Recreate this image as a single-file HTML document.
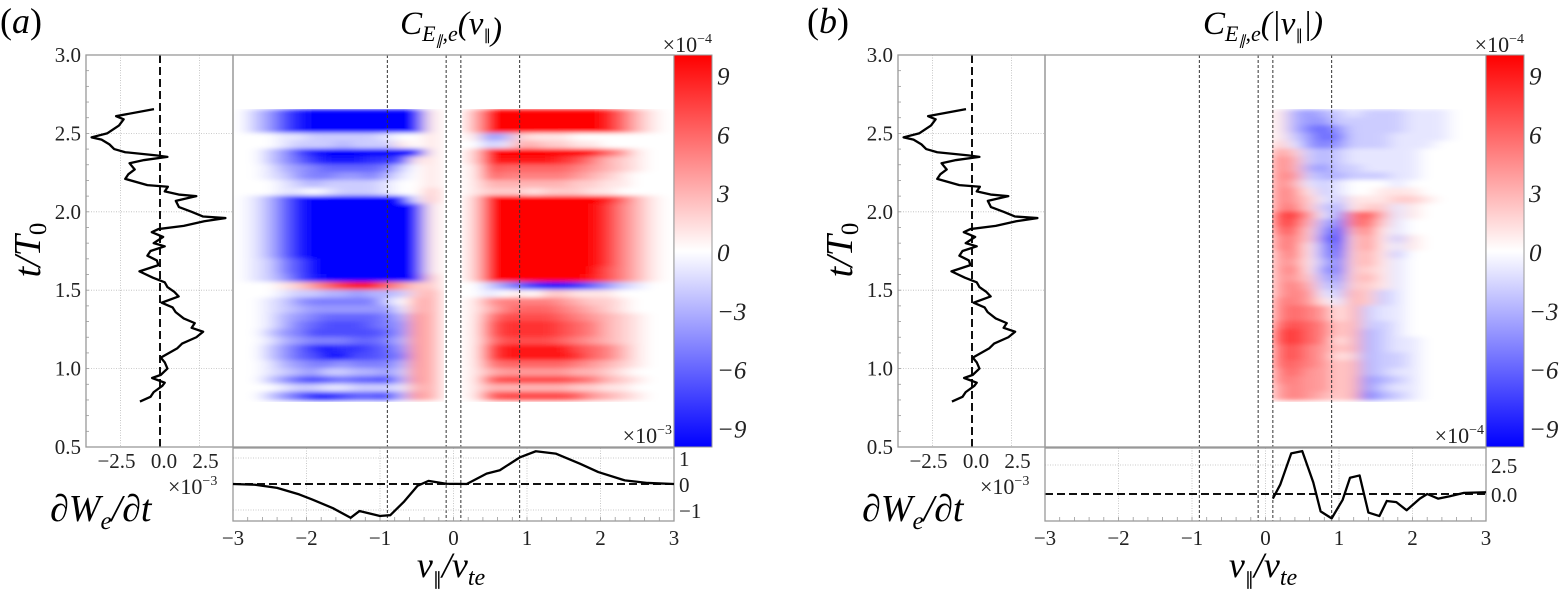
<!DOCTYPE html>
<html><head><meta charset="utf-8">
<style>
html,body{margin:0;padding:0;background:#fff;}
svg{display:block;font-family:"Liberation Serif",serif;}
.tk{font-size:21px;fill:#222;}
</style></head>
<body>
<svg id="fig" width="1559" height="589" viewBox="0 0 1559 589" xmlns="http://www.w3.org/2000/svg">
<defs>
<filter id="blur" x="-5%" y="-5%" width="110%" height="110%"><feGaussianBlur stdDeviation="8 2"/></filter>
<linearGradient id="cbar" x1="0" y1="1" x2="0" y2="0">
<stop offset="0" stop-color="#0000ff"/><stop offset="0.5" stop-color="#ffffff"/><stop offset="1" stop-color="#ff0000"/>
</linearGradient>
<clipPath id="clipA"><rect x="233" y="109" width="211" height="293"/><rect x="462" y="109" width="212" height="293"/></clipPath>
<clipPath id="clipB"><rect x="1272" y="109" width="214" height="293"/></clipPath>
</defs>
</svg>
<script>
// ---- data ----
const tSeries = [2.655,2.61,2.59,2.55,2.5,2.475,2.46,2.43,2.40,2.38,2.36,2.35,2.33,2.31,2.27,2.24,2.21,2.17,2.16,2.13,2.11,2.10,2.07,2.03,2.0,1.97,1.96,1.94,1.91,1.89,1.87,1.84,1.80,1.78,1.75,1.72,1.69,1.66,1.62,1.58,1.55,1.52,1.49,1.46,1.42,1.39,1.36,1.32,1.29,1.26,1.235,1.2,1.16,1.13,1.11,1.07,1.04,1.0,0.96,0.94,0.91,0.89,0.85,0.82,0.79];
const dWdtT = [-0.38,-2.78,-2.3,-2.6,-3.35,-4.33,-3.7,-3.2,-2.9,-2.2,-0.24,0.47,-1.0,-1.93,-1.6,-2.0,-2.2,-0.8,0.5,0.3,1.18,2.3,1.0,1.2,2.0,2.73,4.14,2.8,1.5,-0.1,-0.52,0.2,-0.4,0.3,-0.6,-0.8,-0.2,-0.1,-1.3,-0.45,0.3,0.47,0.9,1.18,0.1,0.8,0.99,1.5,2.2,2.0,2.73,2.3,1.4,1.1,0.75,0.05,0.3,0.47,0.05,-0.5,0.3,0.15,-0.4,-0.6,-1.27];
const vA = [-3,-2.7,-2.4,-2.1,-1.92,-1.64,-1.4,-1.28,-1.0,-0.86,-0.67,-0.49,-0.34,-0.1,0.18,0.45,0.63,0.9,1.12,1.39,1.72,1.97,2.33,2.64,3];
const wA = [0,-0.03,-0.15,-0.4,-0.6,-0.93,-1.3,-1.04,-1.23,-1.2,-0.67,-0.07,0.12,0.01,0,0.4,0.53,1.02,1.26,1.17,0.78,0.46,0.14,0.04,0];
const vB = [0.1,0.2,0.35,0.5,0.65,0.75,0.9,1.05,1.15,1.28,1.4,1.55,1.65,1.78,1.92,2.1,2.2,2.35,2.5,2.7,3.0];
const wB = [-0.4,0.8,3.5,3.7,1.0,-1.5,-2.1,-0.5,1.4,1.6,-1.6,-1.9,-0.6,-0.7,-1.4,-0.4,0.0,-0.4,-0.2,0.1,0.15];
// heatmap rows: t centres 2.625 down to 0.825 (step 0.05); chars: 0-9 positive, X=12, a-i negative, x=-12, .=none
const heatA = [
"0bdgixxxxxxxx1..3XXXXXXXX96310",
"0bdgixxxxxxxx1..3XXXXXXXX96310",
"0bdgixxxxxxxx1..3XXXXXXXX96310",
"000aabbbbba001..1dc21110000000",
"000abbbcbbb101..0ba33221100000",
"00bdgixxxxxxx1..2XXXXXXX964100",
"00bdfhiiihhg11..29999987532100",
"00acdeffffeb01..17666665432100",
"00abdeeddeca01..16555554321000",
"000abcbbbba001..13333332211000",
"000aa0abbba002..12221222110000",
"0acfixxxxxxxa2..2XXXXXXXX96310",
"0acfixxxxxxxx1..2XXXXXXXX85310",
"0acfixxxxxxxx1..2XXXXXXXX85310",
"0acfixxxxxxxx1..2XXXXXXXX85310",
"0acfixxxxxxxx1..2XXXXXXXX85310",
"0acfixxxxxxxx1..2XXXXXXXX85310",
"0acfixxxxxxxx1..2XXXXXXXX85310",
"0acfixxxxxxxx1..2XXXXXXXX85310",
"0abegxxxxxxxx1..2XXXXXXXX85310",
"0abegxxxxxxxx1..2XXXXXXXX75310",
"0abdgixxxxxxx2..2XXXXXXX975310",
"00012468996422..0bdfhiihfdba00",
"000abbccdccb23..0a010221110000",
"00abdeeeeeb033..14555543221000",
"00abcdddddda33..13566654321000",
"00acdeffffec43..15777765432100",
"00acefgggfed43..16888876532100",
"00bdegggggfd43..16888876532100",
"00acdeeeffec43..15777765432100",
"00bdfhihhgfd43..17999997653100",
"00bdfgiiggfe43..17999998653100",
"00acdeedeeec43..15666665432100",
"00abcdbbccdb43..13444443321000",
"00bdfgfeffgc43..16777776532100",
"000abbaabbba33..13333332211000",
"00bdfhhgffgc43..16777776432100"];
const heatB = [
"1cdcbabbbaaa000","1cddbbbbbaaa000","1cefdbbbbaaa000","1bdfebbbaaaa000","2adedbbbaaa0000",
"42bcbaaaaa00000","53bcbaaaaa00000","53cdbbaaaa00000","54bccbbbaa00000","53aba000a000000",
"541ba0011100000","542ab1112210000","552bc122a100000","784ad573a100000","773ce562a000000",
"662dg351a000000","552eh241b100000","551dg241a100000","451df231b000000","441ce231a000000",
"451de221a000000","442cd231a000000","453bc221a000000","454ab32ba000000","5541a32ba000000",
"565413baa000000","565413baa000000","676523bba000000","786523cba000000","786513cbaa00000",
"675423cbaa00000","675412cbba00000","665423cbba00000","564423cbaa00000","554423dcba00000",
"454423dbaa00000","454323ecba00000"];
const tTicks = [3.0,2.5,2.0,1.5,1.0,0.5];
const vTicks = [-3,-2,-1,0,1,2,3];
const lTicks = [-2.5,0.0,2.5];
const lTickLbl = ['\u22122.5','0.0','2.5'];
const cbTicks = [9,6,3,0,-3,-6,-9];
const refV = [-0.9,-0.1,0.1,0.9];

// ---- drawing ----
const NS = "http://www.w3.org/2000/svg";
const svg = document.getElementById('fig');
function mk(tag, attrs, parent, text){
  const e = document.createElementNS(NS, tag);
  for (const k in attrs) e.setAttribute(k, attrs[k]);
  if (text !== undefined) e.textContent = text;
  (parent || svg).appendChild(e);
  return e;
}
function cv(c){
  if (c === '.') return null;
  if (c === 'X') return 12;
  if (c === 'x') return -12;
  if (c >= '0' && c <= '9') return +c;
  return -(c.charCodeAt(0) - 96);
}
function col(v){
  let f = Math.max(-1, Math.min(1, v / 10));
  if (f >= 0) { const g = Math.round(255 * (1 - f)); return `rgb(255,${g},${g})`; }
  const g = Math.round(255 * (1 + f)); return `rgb(${g},${g},255)`;
}
const yT = t => 55 + (3 - t) * 156.8;
const fmt = n => (n < 0 ? '\u2212' : '') + Math.abs(n);

function panel(ox, label, title, heat, v0, dv, clip, bv, bw, bscale, bzero, bTickVals, bTickLbl, bExp){
  const g = mk('g', {}, svg);
  
  
  const xV = v => ox + 233 + (v + 3) * 73.5;
  const xL = w => ox + 160 + w * 15.8;
  const pl = mk('text', {x: ox + (label === 'a' ? 0 : -5), y: 33, 'font-size': 36}, g);
  
  
  mk('tspan', {}, pl, '(');
  mk('tspan', {'font-style': 'italic'}, pl, label);
  mk('tspan', {}, pl, ')');
  const tt = mk('text', {x: ox + 451, y: 34, 'font-size': 33, 'text-anchor': 'middle', 'font-style': 'italic'}, g);
  
  
  tt.innerHTML = 'C<tspan font-size="22" dy="7">E<tspan font-size="14" dy="4">\u2225</tspan><tspan dy="-4">,e</tspan></tspan><tspan dy="-7">(' + title + ')</tspan>';

  const hg = mk('g', {filter: 'url(#blur)', 'clip-path': clip}, g);
  
  
  heat.forEach((row, i) => {
    const t = 2.625 - 0.05 * i;
    for (let j = 0; j < row.length; j++) {
      const val = cv(row[j]);
      if (val === null) continue;
      const vc = v0 + dv * j;
      const r = mk('rect', {x: xV(vc - dv/2) - 0.5, y: yT(t + 0.025) - 0.5, width: dv * 73.5 + 1, height: 0.05 * 156.8 + 1, fill: col(val)}, hg);
      
      
    }
  });
  refV.forEach(v => {
    const l = mk('line', {x1: xV(v), x2: xV(v), y1: 55, y2: 521, stroke: '#333', 'stroke-width': 1, 'stroke-dasharray': '3,2'}, g);
    
    
  });
  const hf = mk('rect', {x: ox + 233, y: 55, width: 441, height: 392, fill: 'none', stroke: '#999', 'stroke-width': 1.3}, g);
  
  

  tTicks.forEach(t => {
    if (t > 0.5 && t < 3) {
      const gl = mk('line', {x1: ox + 86, x2: ox + 233, y1: yT(t), y2: yT(t), stroke: '#bbb', 'stroke-width': 0.8, 'stroke-dasharray': '1,1.5'}, g);
      
      
    }
    const lb = mk('text', {x: ox + 81, y: yT(t) + 7, 'text-anchor': 'end', class: 'tk'}, g, t.toFixed(1));
    
    
  });
  for (let k = 1; k < 25; k++) {
    const y = 55 + k * 15.68;
    mk('line', {x1: ox + 86, x2: ox + 89, y1: y, y2: y, stroke: '#999', 'stroke-width': 0.8}, g);
  }
  lTicks.forEach((w, i) => {
    if (w !== 0) {
      const gl = mk('line', {x1: xL(w), x2: xL(w), y1: 55, y2: 447, stroke: '#bbb', 'stroke-width': 0.8, 'stroke-dasharray': '1,1.5'}, g);
      
      
    }
    const lb = mk('text', {x: xL(w) + (w === 0 ? 4 : w < 0 ? -4 : 6), y: 468, 'text-anchor': 'middle', class: 'tk'}, g, lTickLbl[i]);
    
    
  });
  const zl = mk('line', {x1: xL(0), x2: xL(0), y1: 55, y2: 447, stroke: '#111', 'stroke-width': 2, 'stroke-dasharray': '8,4'}, g);
  
  
  const lf = mk('rect', {x: ox + 86, y: 55, width: 147, height: 392, fill: 'none', stroke: '#999', 'stroke-width': 1.3}, g);
  
  
  const lp = mk('polyline', {points: tSeries.map((t, i) => xL(dWdtT[i]) + ',' + yT(t)).join(' '), fill: 'none', stroke: '#000', 'stroke-width': 2.3, 'stroke-linejoin': 'round'}, g);
  
  
  const yl = mk('text', {x: 0, y: 0, 'font-size': 38, 'text-anchor': 'middle', 'font-style': 'italic', transform: `translate(${ox + 40},250) rotate(-90)`}, g);
  
  
  yl.innerHTML = 't/T<tspan font-size="25" dy="6" font-style="normal">0</tspan>';

  const cb = mk('rect', {x: ox + 674, y: 55, width: 38, height: 392, fill: 'url(#cbar)', stroke: '#999', 'stroke-width': 1}, g);
  
  
  cbTicks.forEach(c => {
    const y = 251 - c * 19.6;
    const lb = mk('text', {x: ox + 717, y: y + 10, 'font-size': 25, 'font-style': 'italic', fill: '#222'}, g, fmt(c));
    
    
  });
  const ce = mk('text', {x: ox + 712, y: 52, 'font-size': 22, 'text-anchor': 'end', fill: '#222'}, g);
  
  
  ce.innerHTML = '\u00d710<tspan font-size="14" dy="-9">\u22124</tspan>';

  vTicks.forEach(v => {
    const gl = mk('line', {x1: xV(v), x2: xV(v), y1: 448, y2: 521, stroke: '#bbb', 'stroke-width': 0.8, 'stroke-dasharray': '1,1.5'}, g);
    
    
    const lb = mk('text', {x: xV(v), y: 545, 'text-anchor': 'middle', class: 'tk', 'font-size': 22}, g, fmt(v));
    
    
  });
  for (let k = 1; k < 30; k++) {
    const x = xV(-3 + k * 0.2);
    mk('line', {x1: x, x2: x, y1: 521, y2: 517, stroke: '#999', 'stroke-width': 0.8}, g);
  }
  bTickVals.forEach((b, i) => {
    const y = bzero - b * bscale;
    if (b !== 0) {
      const gl = mk('line', {x1: ox + 233, x2: ox + 674, y1: y, y2: y, stroke: '#bbb', 'stroke-width': 0.8, 'stroke-dasharray': '1,1.5'}, g);
      
      
    }
    const lb = mk('text', {x: ox + 679, y: y + 8, class: 'tk', 'font-size': 23}, g, bTickLbl[i]);
    
    
  });
  const bz = mk('line', {x1: ox + 233, x2: ox + 674, y1: bzero, y2: bzero, stroke: '#111', 'stroke-width': 2, 'stroke-dasharray': '8,4'}, g);
  
  
  const bf = mk('rect', {x: ox + 233, y: 448, width: 441, height: 73, fill: 'none', stroke: '#999', 'stroke-width': 1.3}, g);
  
  
  const bp = mk('polyline', {points: bv.map((v, i) => xV(v) + ',' + (bzero - bw[i] * bscale)).join(' '), fill: 'none', stroke: '#000', 'stroke-width': 2.3, 'stroke-linejoin': 'round'}, g);
  
  
  const be = mk('text', {x: ox + 672, y: 443, 'font-size': 22, 'text-anchor': 'end', fill: '#222'}, g);
  
  
  be.innerHTML = '\u00d710<tspan font-size="14" dy="-9">' + bExp + '</tspan>';
  const le = mk('text', {x: ox + 168, y: 494, 'font-size': 22, fill: '#222'}, g);
  
  
  le.innerHTML = '\u00d710<tspan font-size="14" dy="-9">\u22123</tspan>';
  const dl = mk('text', {x: ox + 50, y: 521, 'font-size': 38, 'font-style': 'italic'}, g);
  
  
  dl.innerHTML = '\u2202W<tspan font-size="25" dy="8">e</tspan><tspan dy="-8">/\u2202t</tspan>';
  const xl = mk('text', {x: ox + 451, y: 577, 'font-size': 36, 'text-anchor': 'middle', 'font-style': 'italic'}, g);
  
  
  xl.innerHTML = 'v<tspan font-size="18" dy="8" font-style="normal">\u2225</tspan><tspan dy="-8">/v</tspan><tspan font-size="24" dy="8">te</tspan>';
}

panel(0, 'a', 'v<tspan font-size="15" dy="6" font-style="normal">\u2225</tspan><tspan dy="-6"></tspan>', heatA, -2.9, 0.2, 'url(#clipA)', vA, wA, 26, 484, [1, 0, -1], ['1', '0', '\u22121'], '\u22123');
panel(812, 'b', '|v<tspan font-size="15" dy="6" font-style="normal">\u2225</tspan><tspan dy="-6">|</tspan>', heatB, 0.2, 0.2, 'url(#clipB)', vB, wB, 11.6, 494, [2.5, 0], ['2.5', '0.0'], '\u22124');
</script>
</body></html>
